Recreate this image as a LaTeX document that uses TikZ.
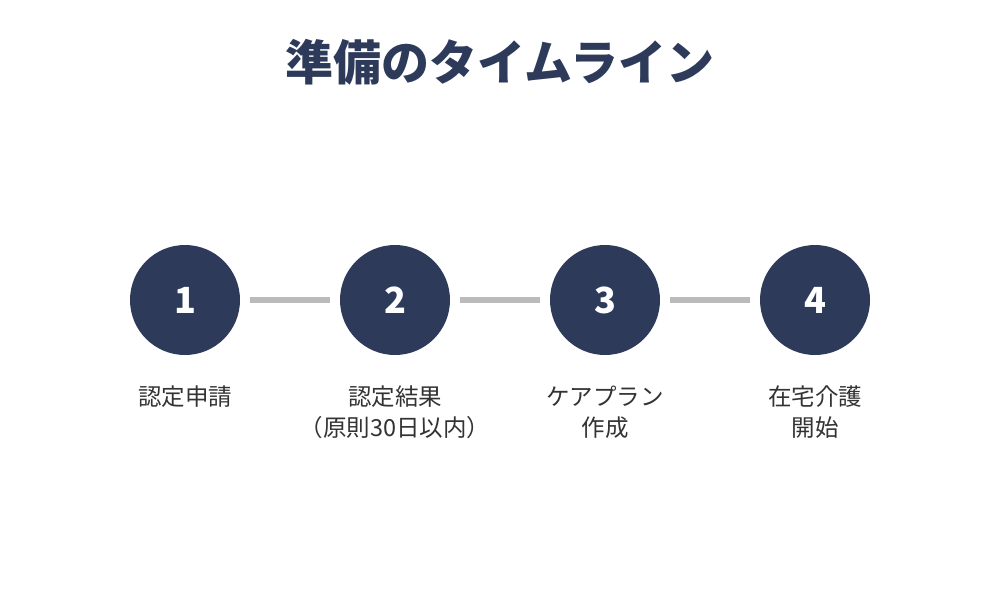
\documentclass[tikz,border=0pt]{standalone}
\usepackage{fontspec}
\setmainfont{Noto Sans CJK JP}
\definecolor{timelineNavy}{HTML}{2D3A5A}
\definecolor{timelineGrey}{HTML}{BBBBBB}
\colorlet{timelineText}{black!80}

\begin{document}
\begin{tikzpicture}[x=1pt, y=-1pt,
    stepcircle/.style={circle, fill=timelineNavy, minimum size=110pt, inner sep=0pt,
      text=white, font=\fontsize{36}{40}\selectfont\bfseries},
    steplabel/.style={align=center, anchor=base, inner sep=0pt, text=timelineText,
      font=\fontsize{23.5}{31}\selectfont},
    connector/.style={timelineGrey, line width=6pt, shorten >=10pt, shorten <=10pt}]
  \useasboundingbox (0,0) rectangle (1000,600);

  \node[text=timelineNavy, font=\fontsize{48}{52}\selectfont\bfseries] (title) at (500,62) {準備のタイムライン};

  \node[stepcircle] (s1) at (185,300) {1};
  \node[stepcircle] (s2) at (395,300) {2};
  \node[stepcircle] (s3) at (605,300) {3};
  \node[stepcircle] (s4) at (815,300) {4};

  \draw[connector] (s1) -- (s2);
  \draw[connector] (s2) -- (s3);
  \draw[connector] (s3) -- (s4);

  % base sits on the last line
  \node[steplabel] (l1) at (185,405) {認定申請};
  \node[steplabel] (l2) at (395,436) {認定結果\\（原則30日以内）};
  \node[steplabel] (l3) at (605,436) {ケアプラン\\作成};
  \node[steplabel] (l4) at (815,436) {在宅介護\\開始};
\end{tikzpicture}
\end{document}
